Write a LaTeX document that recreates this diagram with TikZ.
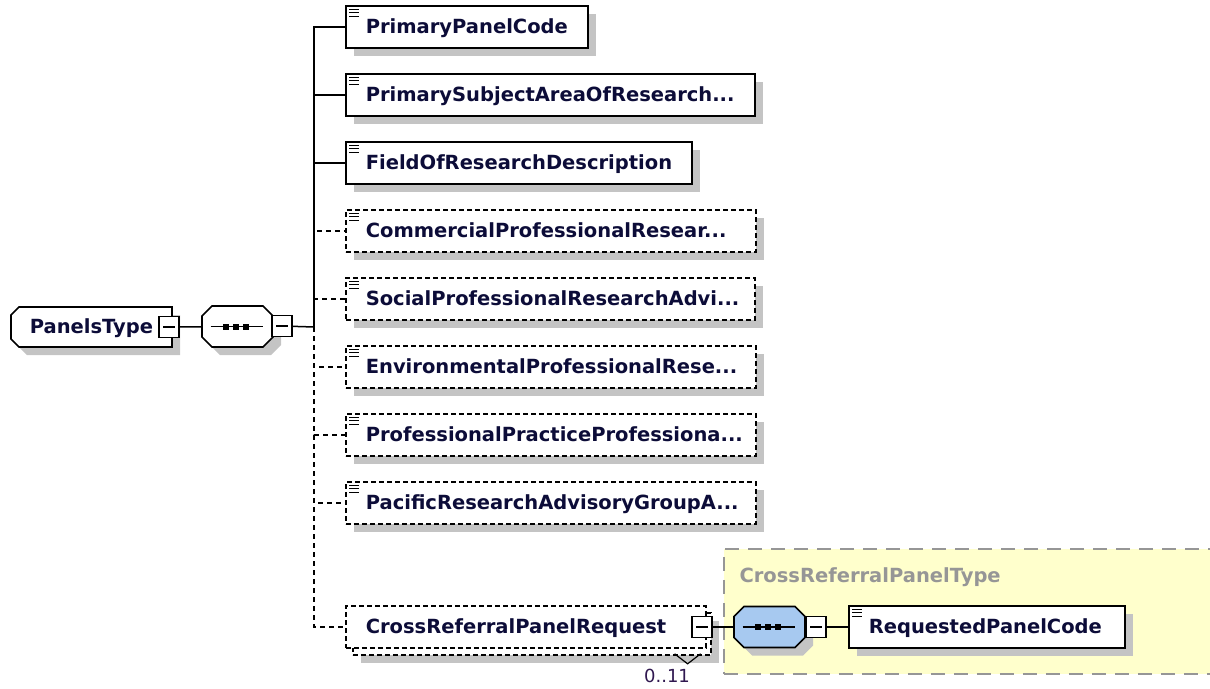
\documentclass[tikz,border=0pt]{standalone}
\usepackage{fontspec}
\setmainfont{DejaVu Sans}
\usetikzlibrary{shadows,backgrounds}

\definecolor{labelnavy}{RGB}{12,12,56}
\definecolor{shadowgray}{RGB}{196,196,196}
\definecolor{seqblue}{RGB}{167,201,240}
\definecolor{typeyellow}{RGB}{255,255,204}
\definecolor{typegray}{RGB}{150,150,150}
\definecolor{multpurple}{RGB}{48,24,80}

% outline of a box with cut corners (left cut, right cut)
\newcommand{\chamfer}[3]{([xshift=#2]#1.north west) -- ([xshift=-#3]#1.north east)
    -- ([yshift=-#3]#1.north east) -- ([yshift=#3]#1.south east) -- ([xshift=-#3]#1.south east)
    -- ([xshift=#2]#1.south west) -- ([yshift=#2]#1.south west) -- ([yshift=-#2]#1.north west) -- cycle}

\begin{document}
\begin{tikzpicture}[
            x=1pt, y=-1pt,                % pixel coordinates, y downwards
            every node/.style={font=\fontsize{19.5}{23}\selectfont\bfseries, text=labelnavy},
            shadowed/.style={general shadow={fill=shadowgray, shadow xshift=8pt, shadow yshift=-8pt}},
            dropshade/.style={fill=shadowgray, transform canvas={xshift=8pt, yshift=-8pt}},
            outline/.style={line width=1.6pt, fill=white},
            elem/.style={draw, line width=1.6pt, fill=white, anchor=west, align=left,
                minimum height=42pt, inner xsep=20pt, inner ysep=0pt,
                text height=16pt, text depth=4pt, text width=#1},
            optelem/.style={elem=#1, dash pattern=on 5pt off 3pt},
            rootbox/.style={anchor=west, minimum width=161pt, minimum height=40pt, inner sep=0pt,
                outer sep=0pt, text height=16pt, text depth=4pt},
            octbox/.style={minimum width=71pt, minimum height=41pt, inner sep=0pt, outer sep=0pt},
            minusbox/.style={draw, line width=1.4pt, fill=white, minimum width=20pt, minimum height=21pt,
                inner sep=0pt,
                path picture={\draw[line width=1.3pt] ([xshift=4pt]path picture bounding box.west)
                    -- ([xshift=-4pt]path picture bounding box.east);}},
            typebox/.style={draw=typegray, fill=typeyellow, line width=1.6pt, dash pattern=on 14pt off 9pt,
                anchor=north west, minimum width=520pt, minimum height=125pt},
            link/.style={line width=1.5pt},
            optlink/.style={link, dash pattern=on 5pt off 4pt}
        ]
            \clip (0,0) rectangle (1210,688);

            % root and sequences (outlines go on the background)
            \node[rootbox] (pt) at (11,327) {PanelsType};
            \node[octbox] (seq) at (237.5,326.5) {};
            \node[octbox] (bseq) at (769.5,627) {};
            \begin{scope}[on background layer]
                \node[typebox] (crpt) at (723,548) {};
                \fill[dropshade] \chamfer{pt}{8pt}{0pt};
                \draw[outline] \chamfer{pt}{8pt}{0pt};
                \fill[dropshade] \chamfer{seq}{10pt}{10pt};
                \draw[outline] \chamfer{seq}{10pt}{10pt};
                \fill[dropshade] \chamfer{bseq}{10pt}{10pt};
                \draw[outline, fill=seqblue] \chamfer{bseq}{10pt}{10pt};
            \end{scope}
            \foreach \n in {seq,bseq} {
                \draw[line width=1.8pt] ([xshift=-27pt]\n.center) -- ([xshift=25pt]\n.center);
                \foreach \dx in {-12,-2,8}
                    \fill ([shift={({\dx-3},-3)}]\n.center) rectangle ++(6,6);
            }
            \node[anchor=west, text=typegray] (crpttitle) at (736,577) {CrossReferralPanelType};
            \node[minusbox] (ptm) at (169,327) {};
            \node[minusbox] (seqm) at (282,326) {};
            \coordinate (trunk) at (314,327);

            % children
            \node[elem=202pt, shadowed] (ppc) at (345,27) {PrimaryPanelCode};
            \node[elem=369pt, shadowed] (psa) at (345,95) {PrimarySubjectAreaOfResearch...};
            \node[elem=306pt, shadowed] (ford) at (345,163) {FieldOfResearchDescription};
            \node[optelem=370pt, shadowed] (cpr) at (345,231) {CommercialProfessionalResear...};
            \node[optelem=369pt, shadowed] (spr) at (345,299) {SocialProfessionalResearchAdvi...};
            \node[optelem=370pt, shadowed] (epr) at (345,367) {EnvironmentalProfessionalRese...};
            \node[optelem=370pt, shadowed] (ppp) at (345,435) {ProfessionalPracticeProfessiona...};
            \node[optelem=370pt, shadowed] (prag) at (345,503) {PacificResearchAdvisoryGroupA...};
            \node[optelem=318pt, shadowed] (crpb) at (352,634) {};
            \node[optelem=320pt] (crp) at (345,627) {CrossReferralPanelRequest};
            \node[minusbox] (crpm) at (702,627) {};
            \node[font=\fontsize{18}{20}\selectfont, text=multpurple] (mult) at (667,676) {0..11};
            \draw[line width=1.2pt] ([shift={(-37,-2)}]crpb.south east) -- ++(13,10) -- ++(13,-10);

            % inside the type
            \node[minusbox] (bseqm) at (816,627) {};
            \node[elem=236pt, shadowed] (rpc) at (848,627) {RequestedPanelCode};

            % element marks
            \foreach \n in {ppc,psa,ford,cpr,spr,epr,ppp,prag,rpc}
                \foreach \k in {0,1,2}
                    \draw[line width=1.1pt] ([shift={(4,{4+3.5*\k})}]\n.north west) -- ++(10,0);

            % connectors
            \draw[link] (ptm) -- (seq);
            \draw[link] (seqm) -- (trunk);
            \foreach \n in {cpr,spr,epr,ppp,prag,crp}
                \draw[optlink] (trunk) |- (\n);
            \foreach \n in {ppc,psa,ford}
                \draw[link] (trunk) |- (\n);
            \draw[link] (crpm) -- (bseq);
            \draw[link] (bseqm) -- (rpc);
        \end{tikzpicture}
\end{document}
